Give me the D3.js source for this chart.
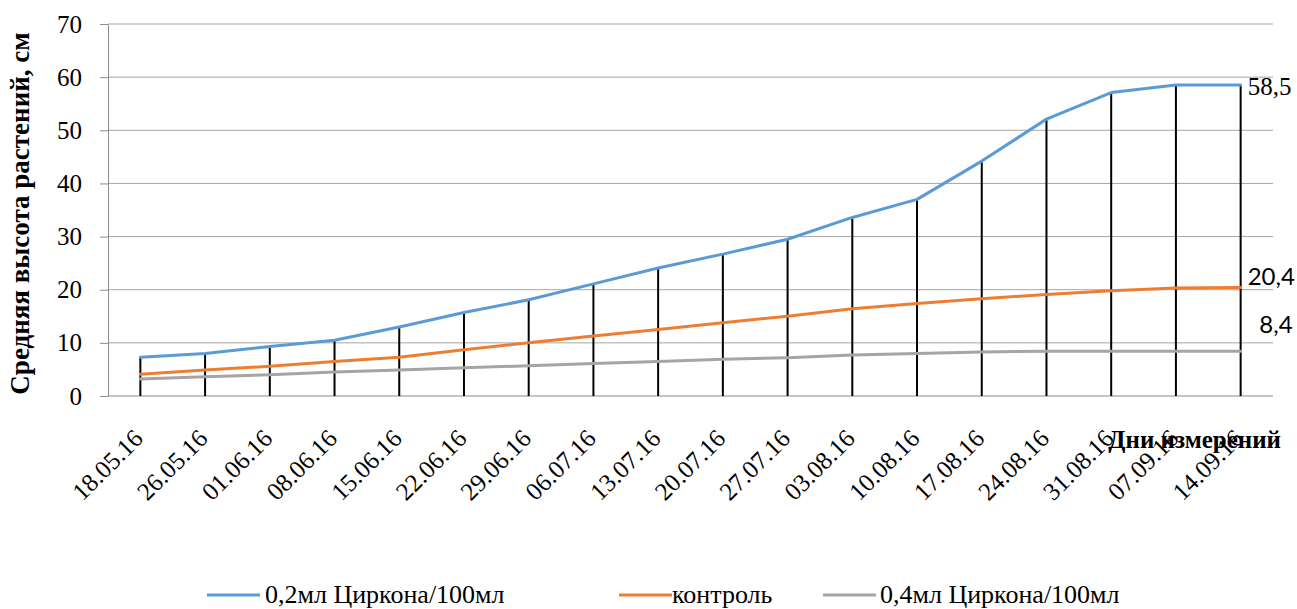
<!DOCTYPE html>
<html>
<head>
<meta charset="utf-8">
<script src="https://cdn.jsdelivr.net/npm/d3@7"></script>
<style>
  html, body { margin: 0; padding: 0; background: #fff; }
  svg { display: block; }
  #chart text { font-family: "Liberation Serif", "Times New Roman", serif; fill: #000; }
  #chart text.sans { font-family: "Lato", "Liberation Sans", sans-serif; }
</style>
</head>
<body>
<svg id="chart" width="1297" height="609"></svg>
<script>
// Measurement dates
const dates = ["18.05.16","26.05.16","01.06.16","08.06.16","15.06.16","22.06.16","29.06.16",
  "06.07.16","13.07.16","20.07.16","27.07.16","03.08.16","10.08.16","17.08.16","24.08.16",
  "31.08.16","07.09.16","14.09.16"];

// Mean plant height, cm
const zircon02 = [7.3, 8.0, 9.3, 10.5, 13.0, 15.7, 18.1, 21.1, 24.1, 26.7, 29.5, 33.6, 37.0, 44.2, 52.1, 57.1, 58.5, 58.5];
const control  = [4.1, 4.9, 5.6, 6.5, 7.3, 8.7, 10.0, 11.3, 12.5, 13.8, 15.0, 16.4, 17.4, 18.3, 19.1, 19.8, 20.3, 20.4];
const zircon04 = [3.2, 3.6, 4.0, 4.5, 4.9, 5.3, 5.7, 6.1, 6.5, 6.9, 7.2, 7.7, 8.0, 8.3, 8.4, 8.4, 8.4, 8.4];

const seriesNames = ["0,2мл Циркона/100мл", "контроль", "0,4мл Циркона/100мл"];
const seriesColors = ["#5B9BD5", "#ED7D31", "#A5A5A5"];
const yTicks = [0, 10, 20, 30, 40, 50, 60, 70];

const series = [zircon02, control, zircon04].map((vals, i) => ({
  name: seriesNames[i], color: seriesColors[i], values: vals
}));

const svg = d3.select("#chart");
const plotLeft = 108, plotRight = 1273, plotTop = 24, plotBottom = 396;

const x = d3.scaleBand().domain(dates).range([plotLeft, plotRight]);
const y = d3.scaleLinear().domain([0, 70]).range([plotBottom, plotTop]);
const cx = d => x(d) + x.bandwidth() / 2;

// Horizontal gridlines
svg.append("g").selectAll("line").data(yTicks.filter(t => t > 0)).join("line")
  .attr("x1", plotLeft).attr("x2", plotRight)
  .attr("y1", d => y(d)).attr("y2", d => y(d))
  .attr("stroke", "#A6A6A6").attr("stroke-width", 1);

// Y axis with outward tick marks
const yAxis = svg.append("g")
  .attr("transform", `translate(${plotLeft},0)`)
  .call(d3.axisLeft(y).tickValues(yTicks).tickSize(8).tickPadding(18).tickSizeOuter(0));
yAxis.attr("font-family", null).attr("font-size", null);
yAxis.select(".domain").attr("stroke", "#8C8C8C");
yAxis.selectAll(".tick line").attr("stroke", "#8C8C8C");
yAxis.selectAll(".tick text").style("font-size", "25px");

// X axis baseline
svg.append("line")
  .attr("x1", plotLeft).attr("x2", plotRight)
  .attr("y1", y(0)).attr("y2", y(0))
  .attr("stroke", "#8C8C8C").attr("stroke-width", 1.2);

// Drop lines from the highest series to the axis
svg.append("g").selectAll("line").data(dates).join("line")
  .attr("x1", d => cx(d)).attr("x2", d => cx(d))
  .attr("y1", (d, i) => y(d3.max(series, s => s.values[i])))
  .attr("y2", y(0))
  .attr("stroke", "#000").attr("stroke-width", 2);

// Series lines
const line = d3.line()
  .x((v, i) => cx(dates[i]))
  .y(v => y(v))
  .curve(d3.curveLinear);

svg.append("g").selectAll("path").data(series.slice().reverse()).join("path")
  .attr("d", s => line(s.values))
  .attr("fill", "none")
  .attr("stroke", s => s.color)
  .attr("stroke-width", 3)
  .attr("stroke-linejoin", "round")
  .attr("stroke-linecap", "round");

// X category labels, rotated
svg.append("g").selectAll("text").data(dates).join("text")
  .attr("transform", d => `translate(${cx(d) + 4},${plotBottom + 44}) rotate(-45)`)
  .attr("text-anchor", "end")
  .style("font-size", "25px")
  .text(d => d);

// Axis titles
svg.append("text")
  .attr("transform", `translate(29,${(35 + 392) / 2}) rotate(-90)`)
  .attr("text-anchor", "middle")
  .style("font-size", "27px").style("font-weight", "bold")
  .text("Средняя высота растений, см");

svg.append("text")
  .attr("x", 1281).attr("y", 448)
  .attr("text-anchor", "end")
  .style("font-size", "25px").style("font-weight", "bold")
  .text("Дни измерений");

// End-point value labels
const last = dates.length - 1;
const endLabels = [
  { s: 0, dx: 7, dy: 10, anchor: "start", cls: "" },
  { s: 1, dx: 7, dy: -3, anchor: "start", cls: "sans" },
  { s: 2, dx: 52, dy: -18, anchor: "end", cls: "sans" }
];
svg.append("g").selectAll("text").data(endLabels).join("text")
  .attr("class", d => d.cls)
  .attr("x", d => cx(dates[last]) + d.dx)
  .attr("y", d => y(series[d.s].values[last]) + d.dy)
  .attr("text-anchor", d => d.anchor)
  .style("font-size", d => d.cls ? "24px" : "25px")
  .text(d => d3.format(".1f")(series[d.s].values[last]).replace(".", ","));

// Legend
const legendItems = [
  { x0: 207, tx: 265 },
  { x0: 619, tx: 672 },
  { x0: 823, tx: 880 }
];
const lg = svg.append("g").selectAll("g").data(series).join("g");
lg.append("line")
  .attr("x1", (d, i) => legendItems[i].x0).attr("x2", (d, i) => legendItems[i].x0 + 53)
  .attr("y1", 595).attr("y2", 595)
  .attr("stroke", d => d.color).attr("stroke-width", 3);
lg.append("text")
  .attr("x", (d, i) => legendItems[i].tx).attr("y", 603)
  .style("font-size", "26px")
  .text(d => d.name);
</script>
</body>
</html>
